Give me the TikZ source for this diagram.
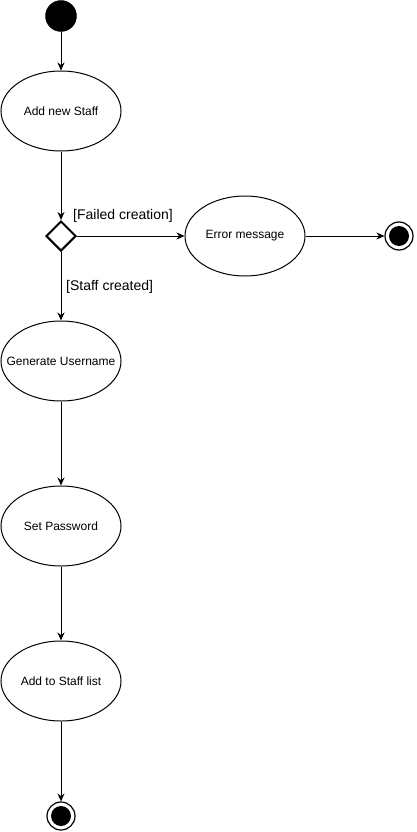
\documentclass[tikz,border=0pt]{standalone}
\usepackage{fontspec}
\setmainfont{Liberation Sans}
\usetikzlibrary{shapes.geometric,arrows.meta}
\tikzstyle{activity}=[ellipse, draw, line width=1pt, minimum width=120pt, minimum height=80pt, inner xsep=-16pt, inner ysep=0pt, font=\fontsize{12}{14}\selectfont]
\tikzstyle{start state}=[circle, fill=black, draw=black, minimum size=31pt, inner sep=0pt]
\tikzstyle{end state}=[circle, draw=black, fill=white, line width=1.2pt, minimum size=28pt, inner sep=0pt,
    path picture={\fill[black] (path picture bounding box.center) circle (10pt);}]
\tikzstyle{decision}=[diamond, draw, line width=2pt, minimum width=30pt, minimum height=30pt, inner sep=0pt]
\tikzstyle{guard}=[font=\fontsize{14}{16}\selectfont, inner sep=0pt]
\tikzstyle{flow}=[line width=1pt, -{Stealth[length=8pt,width=7pt]}]

\begin{document}
\begin{tikzpicture}[x=1pt, y=-1pt]
    \useasboundingbox[fill=white] (0,0) rectangle (416,832);
    % states and activities
    \node[start state] (start) at (61,16) {};
    \node[activity] (addstaff) at (61,111) {Add new Staff};
    \node[decision] (check) at (61,236) {};
    \node[activity] (errormsg) at (245,236) {Error message};
    \node[end state] (errorend) at (399,236) {};
    \node[activity] (genuser) at (61,361) {Generate Username};
    \node[activity] (setpass) at (61,526) {Set Password};
    \node[activity] (addlist) at (61,681) {Add to Staff list};
    \node[end state] (finish) at (61,816) {};
    % guards
    \node[guard, anchor=west] (failed) at (73,216) {[Failed creation]};
    \node[guard, anchor=west] (created) at (66,287) {[Staff created]};
    % flows
    \draw[flow] (start) -- (addstaff);
    \draw[flow] (addstaff) -- (check);
    \draw[flow] (check) -- (errormsg);
    \draw[flow] (errormsg) -- (errorend);
    \draw[flow] (check) -- (genuser);
    \draw[flow] (genuser) -- (setpass);
    \draw[flow] (setpass) -- (addlist);
    \draw[flow] (addlist) -- (finish);
\end{tikzpicture}
\end{document}
